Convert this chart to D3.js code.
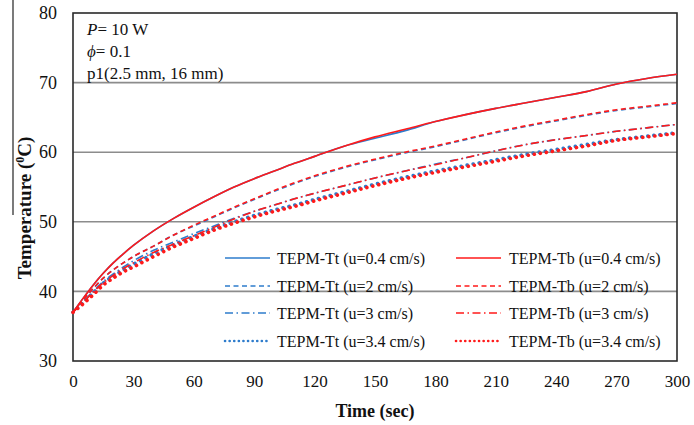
<!DOCTYPE html>
<html><head><meta charset="utf-8">
<script src="https://cdn.jsdelivr.net/npm/d3@7"></script>
<style>body{margin:0;background:#fff}svg{display:block}text{font-family:"Liberation Serif","Times New Roman",serif;fill:#111}</style>
</head><body><svg id="c" width="694" height="425"></svg>
<script>
const times = [0,5,10,15,20,25,30,40,50,60,70,80,90,100,110,120,135,150,165,180,195,210,225,240,255,270,285,300];
const tb04 = [37.0,39.0,40.9,42.6,44.1,45.4,46.6,48.7,50.5,52.1,53.6,55.0,56.2,57.3,58.4,59.4,60.9,62.2,63.3,64.4,65.4,66.3,67.1,67.9,68.7,69.8,70.6,71.2];
const tt04 = [37.0,39.0,40.9,42.6,44.1,45.4,46.6,48.7,50.5,52.1,53.6,55.0,56.2,57.3,58.4,59.4,60.9,62.0,63.1,64.4,65.4,66.3,67.1,67.9,68.7,69.8,70.6,71.2];
const tb2  = [37.0,38.8,40.4,41.9,43.1,44.1,45.0,46.5,48.1,49.5,50.8,52.1,53.3,54.5,55.6,56.6,57.9,59.0,60.0,60.9,61.9,62.9,63.8,64.6,65.4,66.1,66.6,67.1];
const tt2  = [37.0,38.8,40.4,41.9,43.1,44.1,45.0,46.5,48.1,49.4,50.7,52.0,53.2,54.4,55.5,56.5,57.8,58.9,59.9,60.8,61.8,62.8,63.7,64.5,65.3,66.0,66.5,67.0];
const tb3  = [37.0,38.4,39.9,41.2,42.3,43.3,44.1,45.6,46.8,48.0,49.2,50.4,51.5,52.4,53.3,54.1,55.2,56.3,57.3,58.2,59.2,60.2,61.1,61.8,62.4,63.0,63.5,64.0];
const tt3  = [37.0,38.5,40.0,41.4,42.5,43.5,44.4,45.9,47.1,48.3,49.4,50.5,51.5,52.4,53.3,54.1,55.2,56.3,57.3,58.3,59.2,60.2,61.1,61.8,62.4,63.0,63.5,64.0];
const tb34 = [37.0,38.2,39.5,40.9,41.9,42.8,43.5,45.0,46.4,47.6,48.8,49.8,50.7,51.5,52.2,53.0,54.1,55.2,56.2,57.1,57.9,58.7,59.5,60.2,60.9,61.7,62.2,62.7];
const tt34 = [37.0,38.4,39.8,41.2,42.2,43.1,43.9,45.4,46.7,47.9,49.0,50.0,50.9,51.7,52.4,53.2,54.3,55.4,56.4,57.3,58.1,58.9,59.7,60.4,61.1,61.8,62.3,62.8];
const seriesNames = ["TEPM-Tt (u=0.4 cm/s)","TEPM-Tt (u=2 cm/s)","TEPM-Tt (u=3 cm/s)","TEPM-Tt (u=3.4 cm/s)",
                     "TEPM-Tb (u=0.4 cm/s)","TEPM-Tb (u=2 cm/s)","TEPM-Tb (u=3 cm/s)","TEPM-Tb (u=3.4 cm/s)"];
const xTicks = [0,30,60,90,120,150,180,210,240,270,300];
const yTicks = [30,40,50,60,70,80];
const notes = ["P","ϕ","p1(2.5 mm, 16 mm)"];

const blue = "#2e7ccc", red = "#ff1a1a";
const styles = [
  {c:blue,d:null,w:1.6},{c:blue,d:"5,3.5",w:1.6},{c:blue,d:"8,3.5,1.5,3.5",w:1.6},{c:blue,d:"0.1,6",w:3.6,cap:"round"},
  {c:red,d:null,w:1.6},{c:red,d:"5,3.5",w:1.6},{c:red,d:"8,3.5,1.5,3.5",w:1.6},{c:red,d:"0.1,6",w:3.6,cap:"round"}
];
const seriesVals = [tt04,tt2,tt3,tt34,tb04,tb2,tb3,tb34];

const svg = d3.select("#c");
const L=73,R=677,T=13,B=361;
const x = d3.scaleLinear().domain([0,300]).range([L,R]);
const y = d3.scaleLinear().domain([30,80]).range([B,T]);

// stray border artifact
svg.append("line").attr("x1",13).attr("x2",13).attr("y1",0).attr("y2",215).attr("stroke","#333").attr("stroke-width",1.3);

// gridlines
svg.append("g").selectAll("line").data(yTicks.filter(v=>v>30&&v<80)).join("line")
  .attr("x1",L).attr("x2",R).attr("y1",d=>y(d)).attr("y2",d=>y(d)).attr("stroke","#8c8c8c").attr("stroke-width",1.6);

// frame
svg.append("rect").attr("x",L).attr("y",T).attr("width",R-L).attr("height",B-T).attr("fill","none").attr("stroke","#2a2a2a").attr("stroke-width",1.6);

// axes labels via d3 axes
const xa = svg.append("g").attr("transform",`translate(0,${B})`).call(d3.axisBottom(x).tickValues(xTicks).tickSize(0).tickPadding(14));
xa.select(".domain").remove();
xa.selectAll("text").attr("font-size",17).attr("font-family","Liberation Serif").attr("fill","#111");
const ya = svg.append("g").attr("transform",`translate(${L},0)`).call(d3.axisLeft(y).tickValues(yTicks).tickSize(0).tickPadding(16));
ya.select(".domain").remove();
ya.selectAll("text").attr("font-size",18).attr("font-family","Liberation Serif").attr("fill","#111");

svg.append("text").attr("x",375).attr("y",417).attr("text-anchor","middle").attr("font-weight","bold").attr("font-size",18).text("Time (sec)");
const yt = svg.append("text").attr("transform","translate(31,208) rotate(-90)").attr("text-anchor","middle").attr("font-weight","bold").attr("font-size",19);
yt.append("tspan").text("Temperature (");
yt.append("tspan").attr("font-size",12).attr("dy",-7).text("0");
yt.append("tspan").attr("dy",7).text("C)");

// notes
const n1 = svg.append("text").attr("x",87).attr("y",35).attr("font-size",17);
n1.append("tspan").attr("font-style","italic").text(notes[0]);
n1.append("tspan").text("= 10 W");
const n2 = svg.append("text").attr("x",87).attr("y",57).attr("font-size",17);
n2.append("tspan").attr("font-style","italic").text(notes[1]);
n2.append("tspan").text("= 0.1");
svg.append("text").attr("x",87).attr("y",79).attr("font-size",17).text(notes[2]);

// lines
const line = d3.line().x((d,i)=>x(times[i])).y(d=>y(d)).curve(d3.curveMonotoneX);
seriesVals.forEach((vals,k)=>{
  const s=styles[k];
  svg.append("path").datum(vals).attr("d",line).attr("fill","none").attr("stroke",s.c)
    .attr("stroke-width",s.w).attr("stroke-dasharray",s.d).attr("stroke-linecap",s.cap||"butt");
});

// legend
const rows=[259,287,314,342];
seriesNames.forEach((nm,k)=>{
  const col=Math.floor(k/4), r=k%4, s=styles[k];
  const lx = col===0?225:456, tx = col===0?277:509;
  const dotted = s.w>3;
  svg.append("line").attr("x1",lx).attr("x2",lx+45).attr("y1",rows[r]-1).attr("y2",rows[r]-1)
    .attr("stroke",s.c).attr("stroke-width",dotted?2.6:1.6).attr("stroke-dasharray",s.d?(dotted?"0.1,4.5":s.d):null).attr("stroke-linecap",s.cap||"butt");
  svg.append("text").attr("x",tx).attr("y",rows[r]+5).attr("font-size",16).text(nm);
});
</script></body></html>
